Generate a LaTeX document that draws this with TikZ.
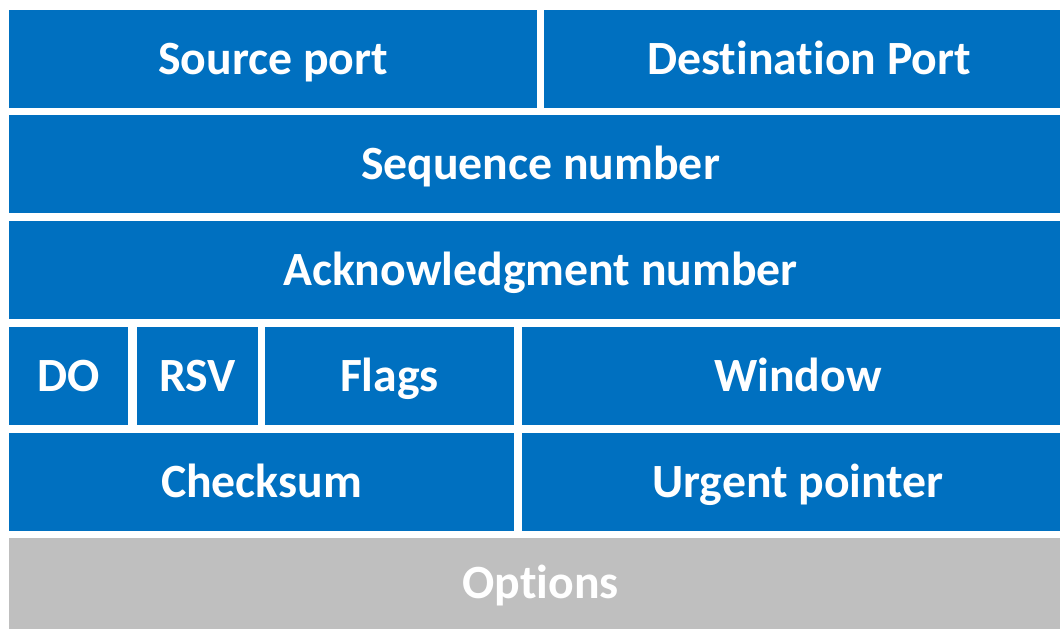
\documentclass[tikz,border=0pt]{standalone}
\usepackage{fontspec}
\setmainfont{Carlito}[Ligatures=NoCommon]
\usetikzlibrary{fit}
\definecolor{fieldblue}{HTML}{0070C0}
\definecolor{fieldgrey}{HTML}{BFBFBF}
\tikzset{
  field/.style={fill=fieldblue, draw=none, inner sep=0pt},
  optfield/.style={field, fill=fieldgrey},
  fieldtext/.style={text=white, inner sep=0pt, text height=23pt, text depth=0pt,
    font=\bfseries\fontsize{35.8}{40}\selectfont},
  caption/.style={label={[fieldtext]center:#1}}
}
\begin{document}
\begin{tikzpicture}[x=0.75pt, y=-0.75pt]
  \useasboundingbox[fill=white] (0,0) rectangle (1060,629);
  % the full-width fields run on past the right edge of the page
  % row 1
  \node[field, fit={(9,10) (537,108)}, caption=Source port] (src) {};
  \node[field, fit={(544,10) (1074,108)}, caption=Destination Port] (dst) {};
  % rows 2 and 3
  \node[field, fit={(9,115) (1072,213)}, caption=Sequence number] (seq) {};
  \node[field, fit={(9,221) (1072,319)}, caption=Acknowledgment number] (ack) {};
  % row 4
  \node[field, fit={(9,327) (128,425)}, caption=DO] (do) {};
  \node[field, fit={(137,327) (258,425)}, caption=RSV] (rsv) {};
  \node[field, fit={(265,327) (514,425)}, caption=Flags] (flags) {};
  \node[field, fit={(522,327) (1074,425)}, caption=Window] (win) {};
  % row 5
  \node[field, fit={(9,433) (514,531)}, caption=Checksum] (chk) {};
  \node[field, fit={(522,433) (1074,531)}, caption=Urgent pointer] (urg) {};
  % row 6
  \node[optfield, fit={(9,538) (1072,629)}, caption=Options] (opt) {};
\end{tikzpicture}
\end{document}
